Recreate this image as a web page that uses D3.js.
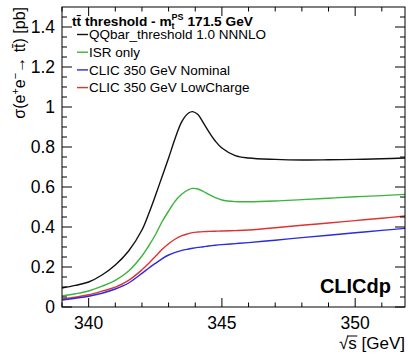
<!DOCTYPE html>
<html>
<head>
<meta charset="utf-8">
<script src="https://cdn.jsdelivr.net/npm/d3@7"></script>
<style>
html,body{margin:0;padding:0;background:#fff;}
svg{display:block;}
text{font-family:"Liberation Sans",Arial,Helvetica,sans-serif;}
</style>
</head>
<body>
<svg id="chart" width="408" height="354"></svg>
<script>
// ---- data ----
const sqrtS = [339, 339.5, 340, 340.5, 341, 341.5, 342, 342.25, 342.5, 342.75, 343, 343.25, 343.5, 343.75, 343.9, 344.1, 344.3, 344.5, 344.75, 345, 345.5, 346, 347, 348, 349, 350, 351, 351.87];
const qqbarNNNLO = [0.095, 0.108, 0.125, 0.16, 0.21, 0.28, 0.385, 0.465, 0.555, 0.65, 0.745, 0.845, 0.928, 0.97, 0.977, 0.962, 0.922, 0.878, 0.83, 0.795, 0.757, 0.745, 0.738, 0.735, 0.736, 0.738, 0.741, 0.745];
const isrOnly = [0.055, 0.066, 0.08, 0.104, 0.133, 0.18, 0.255, 0.305, 0.36, 0.425, 0.48, 0.53, 0.565, 0.587, 0.593, 0.59, 0.578, 0.563, 0.547, 0.535, 0.527, 0.526, 0.53, 0.537, 0.544, 0.551, 0.557, 0.563];
const clicNominal = [0.035, 0.044, 0.054, 0.069, 0.09, 0.12, 0.168, 0.194, 0.218, 0.241, 0.26, 0.273, 0.283, 0.29, 0.294, 0.298, 0.301, 0.305, 0.309, 0.312, 0.317, 0.322, 0.334, 0.347, 0.359, 0.371, 0.383, 0.393];
const clicLowCharge = [0.04, 0.049, 0.061, 0.079, 0.099, 0.133, 0.186, 0.218, 0.252, 0.287, 0.316, 0.34, 0.357, 0.367, 0.372, 0.375, 0.377, 0.378, 0.379, 0.38, 0.382, 0.385, 0.396, 0.409, 0.42, 0.432, 0.444, 0.455];
const seriesNames = ["QQbar_threshold 1.0 NNNLO", "ISR only", "CLIC 350 GeV Nominal", "CLIC 350 GeV LowCharge"];
const xMajorTicks = [340, 345, 350];
const xMinorTicks = [339, 341, 342, 343, 344, 346, 347, 348, 349, 351];
const yMajorTicks = [0, 0.2, 0.4, 0.6, 0.8, 1.0, 1.2, 1.4];
const yTickLabels = ["0", "0.2", "0.4", "0.6", "0.8", "1", "1.2", "1.4"];
const yMinorTicks = [0.05,0.1,0.15,0.25,0.3,0.35,0.45,0.5,0.55,0.65,0.7,0.75,0.85,0.9,0.95,1.05,1.1,1.15,1.25,1.3,1.35,1.45];

// ---- layout ----
const L = 62, R = 405, T = 7, B = 307;
const x = d3.scaleLinear().domain([339, 351.87]).range([L, R]);
const y = d3.scaleLinear().domain([0, 1.5]).range([B, T]);
const svg = d3.select("#chart");
const colors = ["#111111", "#3cb43c", "#2b2be0", "#e03232"];
const seriesData = [qqbarNNNLO, isrOnly, clicNominal, clicLowCharge];

// curves
const line = d3.line().x((d,i)=>x(sqrtS[i])).y(d=>y(d)).curve(d3.curveCatmullRom.alpha(0.5));
[0,1,3,2].forEach(k=>{
  svg.append("path").attr("d", line(seriesData[k])).attr("fill","none")
    .attr("stroke", colors[k]).attr("stroke-width",1.4);
});

// frame
svg.append("rect").attr("x",L).attr("y",T).attr("width",R-L).attr("height",B-T)
  .attr("fill","none").attr("stroke","#000").attr("stroke-width",1);

// axes with inward ticks
const majX = 9, minX = 4.5, majY = 10, minY = 5;
const tk = svg.append("g").attr("stroke","#000").attr("stroke-width",1);
xMajorTicks.forEach(v=>{
  tk.append("line").attr("x1",x(v)).attr("x2",x(v)).attr("y1",B).attr("y2",B-majX);
  tk.append("line").attr("x1",x(v)).attr("x2",x(v)).attr("y1",T).attr("y2",T+majX);
});
xMinorTicks.forEach(v=>{
  tk.append("line").attr("x1",x(v)).attr("x2",x(v)).attr("y1",B).attr("y2",B-minX);
  tk.append("line").attr("x1",x(v)).attr("x2",x(v)).attr("y1",T).attr("y2",T+minX);
});
yMajorTicks.forEach(v=>{
  tk.append("line").attr("y1",y(v)).attr("y2",y(v)).attr("x1",L).attr("x2",L+majY);
  tk.append("line").attr("y1",y(v)).attr("y2",y(v)).attr("x1",R).attr("x2",R-majY);
});
yMinorTicks.forEach(v=>{
  tk.append("line").attr("y1",y(v)).attr("y2",y(v)).attr("x1",L).attr("x2",L+minY);
  tk.append("line").attr("y1",y(v)).attr("y2",y(v)).attr("x1",R).attr("x2",R-minY);
});

// tick labels
xMajorTicks.forEach(v=>{
  svg.append("text").attr("x",x(v)).attr("y",329).attr("text-anchor","middle")
    .attr("font-size",17.5).text(v);
});
yMajorTicks.forEach((v,i)=>{
  svg.append("text").attr("x",55).attr("y",y(v)+6.2).attr("text-anchor","end")
    .attr("font-size",17.5).text(yTickLabels[i]);
});

// axis titles
const xt = svg.append("text").attr("x",405).attr("y",349).attr("text-anchor","end")
  .attr("font-size",17).text("\u221As [GeV]");
try {
  const n = xt.node();
  const s0 = n.getStartPositionOfChar(1).x, s1 = n.getEndPositionOfChar(1).x;
  const r0 = n.getStartPositionOfChar(0).x;
  svg.append("line").attr("x1",r0+n.getSubStringLength(0,1)-1.2).attr("x2",s1+0.5)
    .attr("y1",336).attr("y2",336).attr("stroke","#000").attr("stroke-width",1);
} catch(e) {}
const yt = svg.append("text").attr("transform","translate(25,7) rotate(-90)")
  .attr("text-anchor","end").attr("font-size",16);
yt.append("tspan").text("\u03C3(e");
yt.append("tspan").attr("dy",-6).attr("font-size",11).text("+");
yt.append("tspan").attr("dy",6).text("e");
yt.append("tspan").attr("dy",-6).attr("font-size",11).text("\u2212");
yt.append("tspan").attr("dy",6).text("\u2192 tt\u0304) [pb]");

// legend
const lg = svg.append("g");
const title = lg.append("text").attr("x",72).attr("y",25.5).attr("font-size",13.7).attr("font-weight","bold");
title.append("tspan").text("tt\u0304 threshold - m");
title.append("tspan").attr("dy",3).attr("font-size",9).text("t");
title.append("tspan").attr("dx",-3).attr("dy",-9).attr("font-size",9).text("PS");
title.append("tspan").attr("dy",6).text(" 171.5 GeV");
seriesNames.forEach((name,i)=>{
  const cy = 34.5 + i*17.7;
  lg.append("line").attr("x1",77).attr("x2",88).attr("y1",cy).attr("y2",cy)
    .attr("stroke",colors[i]).attr("stroke-width",1.4);
  lg.append("text").attr("x",89).attr("y",cy+4.8).attr("font-size",13.5).text(name);
});

// CLICdp label
svg.append("text").attr("x",391).attr("y",293).attr("text-anchor","end")
  .attr("font-size",20).attr("font-weight","bold").text("CLICdp");
</script>
</body>
</html>
